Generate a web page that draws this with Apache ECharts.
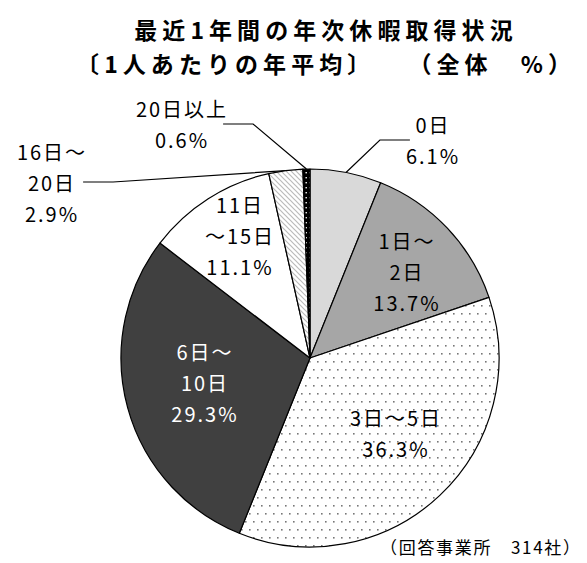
<!DOCTYPE html>
<html>
<head>
<meta charset="utf-8">
<script src="https://cdn.jsdelivr.net/npm/echarts@6/dist/echarts.min.js"></script>
<style>
  html, body { margin: 0; padding: 0; background: #fff; }
  #chart { width: 587px; height: 563px; }
  /* 元図の文字間隔に寄せる */
  #chart text { letter-spacing: 0.1em; }
  #chart text[style*="bold"] { letter-spacing: 0.22em; }
</style>
</head>
<body>
<div id="chart"></div>
<script>
  // 区分と割合（%）
  var categories = ['0日', '1日〜\n2日', '3日〜5日', '6日〜\n10日', '11日\n〜15日', '16日〜\n20日', '20日以上'];
  var values = [6.1, 13.7, 36.3, 29.3, 11.1, 2.9, 0.6];
  // ラベルの置き場所（x, y）
  var labelPos = [[433, 140], [407, 271], [396, 433], [205, 382], [240, 235], [52, 182], [182, 124]];

  // 塗りパターン
  function makeTile(w, h, draw) {
    var c = document.createElement('canvas');
    c.width = w; c.height = h;
    var ctx = c.getContext('2d');
    draw(ctx);
    return { image: c, repeat: 'repeat' };
  }
  var dots = makeTile(8, 16, function (ctx) {
    ctx.fillStyle = '#fff'; ctx.fillRect(0, 0, 8, 16);
    ctx.fillStyle = '#777';
    ctx.fillRect(1, 1, 1.6, 1.6);
    ctx.fillRect(5, 9, 1.6, 1.6);
  });
  var hatch = makeTile(5, 5, function (ctx) {
    ctx.fillStyle = '#fff'; ctx.fillRect(0, 0, 5, 5);
    ctx.strokeStyle = '#bbb'; ctx.lineWidth = 1.2;
    ctx.beginPath();
    ctx.moveTo(-1, -1); ctx.lineTo(6, 6);
    ctx.moveTo(-1, 4); ctx.lineTo(1, 6);
    ctx.moveTo(4, -1); ctx.lineTo(6, 1);
    ctx.stroke();
  });
  var blackDots = makeTile(4, 5, function (ctx) {
    ctx.fillStyle = '#000'; ctx.fillRect(0, 0, 4, 5);
    ctx.fillStyle = '#fff'; ctx.fillRect(1.5, 2, 1.4, 1.4);
  });
  var fills = ['#d9d9d9', '#a6a6a6', dots, '#404040', '#ffffff', hatch, blackDots];
  var textColors = ['#000', '#000', '#000', '#fff', '#000', '#000', '#000'];
  var outside = [true, false, false, false, false, true, true];

  var chart = echarts.init(document.getElementById('chart'), null, { renderer: 'svg' });
  var font = '"Noto Sans CJK JP", "Noto Sans", sans-serif';

  chart.setOption({
    backgroundColor: '#fff',
    animation: false,
    title: {
      text: '最近1年間の年次休暇取得状況\n〔1人あたりの年平均〕　　（全体　%）',
      left: 321,
      top: 7,
      textAlign: 'center',
      textStyle: { fontFamily: font, fontSize: 23, fontWeight: 'bold', color: '#000', lineHeight: 34 }
    },
    graphic: [{
      type: 'text',
      left: 380,
      top: 538,
      style: { text: '（回答事業所　314社）', font: '17px ' + font, fill: '#000' }
    }],
    series: [{
      type: 'pie',
      center: [310, 358],
      radius: 189,
      startAngle: 90,
      clockwise: true,
      avoidLabelOverlap: false,
      itemStyle: { borderColor: '#000', borderWidth: 1.2 },
      label: {
        fontFamily: font,
        fontSize: 20,
        lineHeight: 31,
        color: '#000',
        formatter: function (p) {
          return p.name + '\n' + p.value.toFixed(1) + '%';
        }
      },
      labelLine: { lineStyle: { color: '#000', width: 1.2 } },
      labelLayout: function (p) {
        var pos = labelPos[p.dataIndex];
        return { x: pos[0], y: pos[1], align: 'center', verticalAlign: 'middle' };
      },
      emphasis: { disabled: true },
      data: categories.map(function (c, i) {
        return {
          name: c,
          value: values[i],
          itemStyle: { color: fills[i] },
          label: { position: outside[i] ? 'outside' : 'inside', color: textColors[i] },
          labelLine: { show: outside[i] }
        };
      })
    }]
  });
</script>
</body>
</html>
